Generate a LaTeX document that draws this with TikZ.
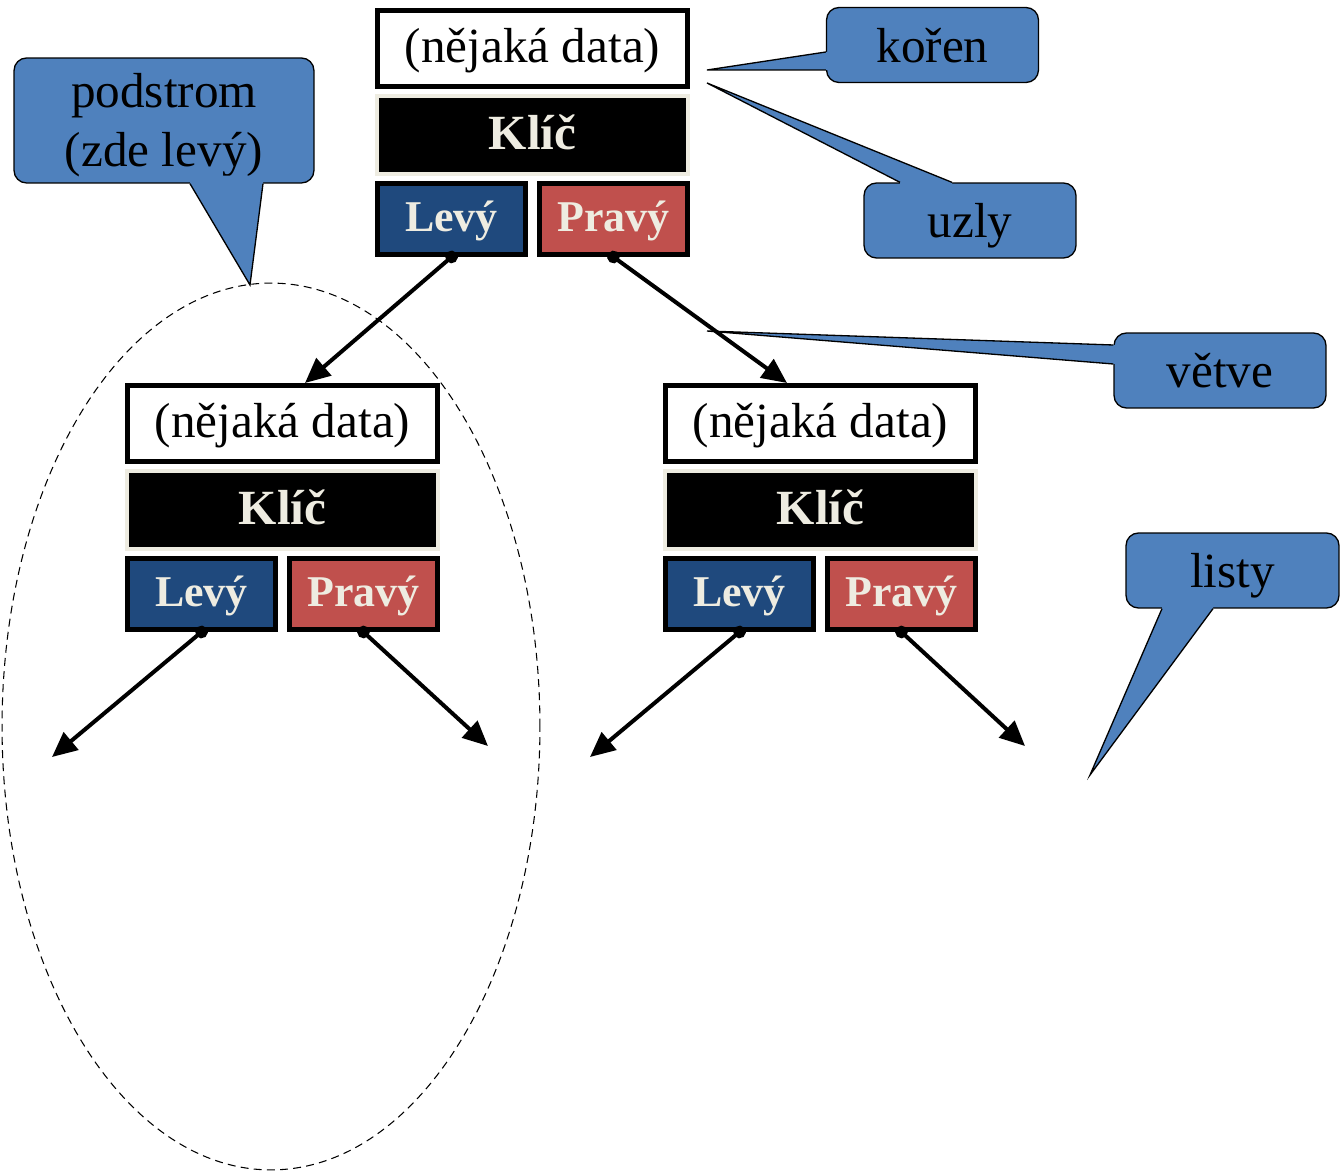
\documentclass[tikz,border=0pt]{standalone}
\usepackage{fontspec}
\setmainfont{Liberation Serif}
\usetikzlibrary{arrows.meta,calc,positioning}
\definecolor{levblue}{HTML}{1F497D}
\definecolor{pravred}{HTML}{C0504D}
\definecolor{klicbeige}{HTML}{EEECE1}
\definecolor{callblue}{HTML}{4F81BD}
\tikzset{
  databox/.style={draw, line width=0.1cm, fill=white, minimum width=6.2cm,
    minimum height=1.52cm, inner sep=0pt, text height=0.7cm, text depth=0.12cm,
    font=\fontsize{28}{33}\selectfont},
  keybox/.style={draw=klicbeige, line width=0.08cm, fill=black, text=klicbeige,
    minimum width=6.22cm, minimum height=1.56cm, inner sep=0pt,
    text height=0.7cm, text depth=0.1cm, font=\bfseries\fontsize{28}{33}\selectfont},
  ptrbox/.style={draw, line width=0.1cm, text=klicbeige, minimum width=2.96cm,
    minimum height=1.42cm, inner sep=0pt, text height=0.62cm, text depth=0.1cm,
    font=\bfseries\fontsize{25}{30}\selectfont},
  levbox/.style={ptrbox, fill=levblue},
  pravbox/.style={ptrbox, fill=pravred},
  branch/.style={line width=0.08cm, shorten <=-0.125cm,
    {Circle[length=0.25cm]}-{Triangle[length=0.5cm,width=0.45cm]}},
  callout/.style={draw, line width=0.75pt, fill=callblue, rounded corners=0.25cm,
    minimum width=4.24cm, minimum height=1.5cm, inner sep=0pt, align=center,
    text height=0.7cm, text depth=0cm, font=\fontsize{28}{34}\selectfont},
  calloutfill/.style={fill=callblue},
  calloutline/.style={line width=0.75pt, line join=miter}
}
\begin{document}
\begin{tikzpicture}[x=0.02cm,y=-0.02cm]
\useasboundingbox (0,0) rectangle (1340,1172);
% podstrom
\draw[dashed, dash pattern=on 4.5pt off 3pt, line width=0.6pt] (271,726.5) ellipse [x radius=5.38cm, y radius=8.87cm];
% root
\node[databox] (rD) at (532.5,48.5) {(nějaká data)};
\node[keybox] (rK) at (532.5,135) {Klíč};
\node[levbox] (rL) at (451.5,219) {Levý};
\node[pravbox] (rP) at (613.5,219) {Pravý};
% left child
\node[databox] (lD) at (282.5,423.5) {(nějaká data)};
\node[keybox] (lK) at (282.5,510) {Klíč};
\node[levbox] (lL) at (201.5,594) {Levý};
\node[pravbox] (lP) at (363.5,594) {Pravý};
% right child
\node[databox] (pD) at (820.5,423.5) {(nějaká data)};
\node[keybox] (pK) at (820.5,510) {Klíč};
\node[levbox] (pL) at (739.5,594) {Levý};
\node[pravbox] (pP) at (901.5,594) {Pravý};
% leaves
\coordinate (leaf1) at (52,757);
\coordinate (leaf2) at (488,746);
\coordinate (leaf3) at (590,757);
\coordinate (leaf4) at (1025,746);
\draw[branch] (rL.south) -- ([xshift=0.45cm]lD.north);
\draw[branch] (rP.south) -- ([xshift=-0.67cm]pD.north);
\draw[branch] (lL.south) -- (leaf1);
\draw[branch] (lP.south) -- (leaf2);
\draw[branch] (pL.south) -- (leaf3);
\draw[branch] (pP.south) -- (leaf4);
% callouts
\coordinate (korTip) at (707,70);
\coordinate (uzlTip) at (707,83);
\coordinate (podTip) at (250,285);
\coordinate (vetTip) at (707,331);
\coordinate (lisTip) at (1090,775);
\node[callout] (kor) at (932.5,45) {kořen};
\fill[calloutfill] ($(kor.west)+(0,7)$) -- (korTip) -- ($(kor.west)+(0,25)$) -- ($(kor.west)+(8,25)$) -- ($(kor.west)+(8,7)$) -- cycle;
\draw[calloutline] ($(kor.west)+(0,7)$) -- (korTip) -- ($(kor.west)+(0,25)$);
\node[callout] (uzl) at (970,220.5) {uzly};
\fill[calloutfill] ($(uzl.north)+(-70,0)$) -- (uzlTip) -- ($(uzl.north)+(-18,0)$) -- ($(uzl.north)+(-18,8)$) -- ($(uzl.north)+(-70,8)$) -- cycle;
\draw[calloutline] ($(uzl.north)+(-70,0)$) -- (uzlTip) -- ($(uzl.north)+(-18,0)$);
\node[callout, minimum width=6cm, minimum height=2.5cm, text height=1.86cm, text depth=0cm] (pod) at (164,120.5) {podstrom\\(zde levý)};
\fill[calloutfill] ($(pod.south)+(26,0)$) -- (podTip) -- ($(pod.south)+(99,0)$) -- ($(pod.south)+(99,-8)$) -- ($(pod.south)+(26,-8)$) -- cycle;
\draw[calloutline] ($(pod.south)+(26,0)$) -- (podTip) -- ($(pod.south)+(99,0)$);
\node[callout] (vet) at (1220,370.5) {větve};
\fill[calloutfill] ($(vet.west)+(0,-25.5)$) -- (vetTip) -- ($(vet.west)+(0,-6.5)$) -- ($(vet.west)+(8,-6.5)$) -- ($(vet.west)+(8,-25.5)$) -- cycle;
\draw[calloutline] ($(vet.west)+(0,-25.5)$) -- (vetTip) -- ($(vet.west)+(0,-6.5)$);
\node[callout, minimum width=4.26cm] (lis) at (1232.5,570.5) {listy};
\fill[calloutfill] ($(lis.south)+(-70.5,0)$) -- (lisTip) -- ($(lis.south)+(-19.5,0)$) -- ($(lis.south)+(-19.5,-8)$) -- ($(lis.south)+(-70.5,-8)$) -- cycle;
\draw[calloutline] ($(lis.south)+(-70.5,0)$) -- (lisTip) -- ($(lis.south)+(-19.5,0)$);
\end{tikzpicture}
\end{document}
